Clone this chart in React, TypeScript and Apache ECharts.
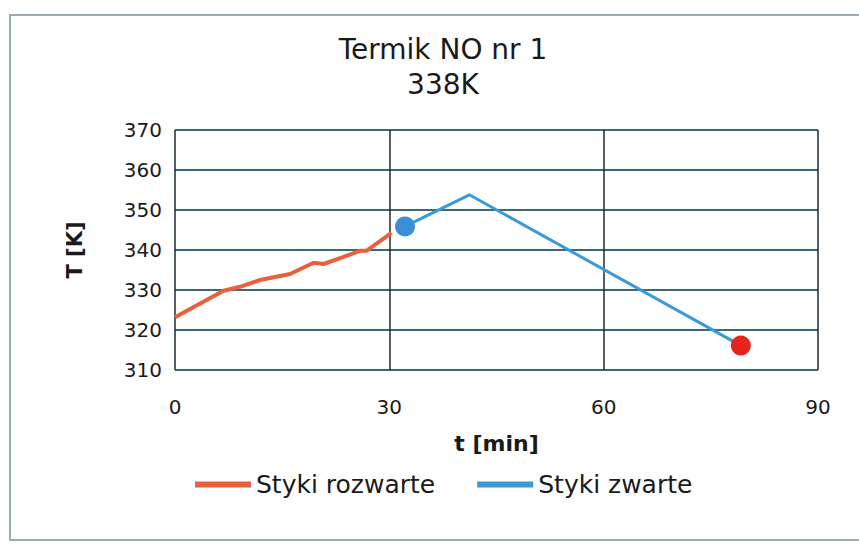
import React, { useEffect, useRef } from "react";
import * as echarts from "echarts";

const titleLines = ["Termik NO nr 1", "338K"];
const xName = "t [min]";
const yName = "T [K]";
const seriesNames = ["Styki rozwarte", "Styki zwarte"];
// [t (min), T (K)]
const openContacts: number[][] = [
  [0, 323.2], [6.8, 329.8], [9.1, 330.8], [11.9, 332.5], [16.1, 334.0],
  [19.4, 336.8], [20.8, 336.5], [23.6, 338.3], [25.9, 339.8], [26.8, 339.8],
  [30.3, 344.3],
];
const closedContacts: number[][] = [
  [32.2, 345.9], [41.2, 353.8], [79.2, 316.1],
];

const FONT = "DejaVu Sans, Verdana, sans-serif";

export default function App() {
  const ref = useRef<HTMLDivElement>(null);
  useEffect(() => {
    const chart = echarts.init(ref.current!, null, { renderer: "svg" });
    const closedData = closedContacts.map((p, i) => {
      if (i === 0)
        return { value: p, symbol: "circle", symbolSize: 20, itemStyle: { color: "#3b8fd6" } };
      if (i === closedContacts.length - 1)
        return { value: p, symbol: "circle", symbolSize: 20, itemStyle: { color: "#e8231c" } };
      return { value: p, symbol: "none" };
    });
    chart.setOption({
      animation: false,
      backgroundColor: "#ffffff",
      graphic: [
        {
          type: "rect",
          shape: { x: 10, y: 15, width: 860, height: 525 },
          style: { fill: "none", stroke: "#9aadb3", lineWidth: 2 },
          z: -10,
        },
      ],
      title: {
        text: titleLines.join("\n"),
        left: 438,
        textAlign: "center",
        top: 27,
        textStyle: {
          fontFamily: FONT,
          fontSize: 28,
          fontWeight: "normal",
          color: "#1a1a1a",
          lineHeight: 35,
        },
      },
      legend: {
        top: 467,
        left: 190,
        itemWidth: 56,
        itemHeight: 6,
        itemGap: 42,
        textStyle: { fontFamily: FONT, fontSize: 25, color: "#1a1a1a" },
        data: [
          { name: seriesNames[0], icon: "rect", itemStyle: { color: "#e9603f" } },
          { name: seriesNames[1], icon: "rect", itemStyle: { color: "#3a9ad9" } },
        ],
      },
      grid: { left: 175, right: 41, top: 130, bottom: 177 },
      xAxis: {
        type: "value",
        min: 0,
        max: 90,
        interval: 30,
        name: xName,
        nameLocation: "middle",
        nameGap: 62,
        nameTextStyle: { fontFamily: FONT, fontSize: 22, fontWeight: "bold", color: "#1a1a1a" },
        axisLine: { show: false },
        axisTick: { show: false },
        axisLabel: { fontFamily: FONT, fontSize: 20, color: "#1a1a1a", margin: 27 },
        splitLine: { show: true, lineStyle: { color: "#1d2b33", width: 1.5 } },
      },
      yAxis: {
        type: "value",
        min: 310,
        max: 370,
        interval: 10,
        name: yName,
        nameLocation: "middle",
        nameGap: 90,
        nameTextStyle: { fontFamily: FONT, fontSize: 21, fontWeight: "bold", color: "#1a1a1a" },
        axisLine: { show: false },
        axisTick: { show: false },
        axisLabel: { fontFamily: FONT, fontSize: 20, color: "#1a1a1a", margin: 13 },
        splitLine: { show: true, lineStyle: { color: "#3e6878", width: 2 } },
      },
      series: [
        {
          name: seriesNames[0],
          type: "line",
          data: openContacts,
          symbol: "none",
          lineStyle: { color: "#e9603f", width: 4 },
          itemStyle: { color: "#e9603f" },
          z: 3,
        },
        {
          name: seriesNames[1],
          type: "line",
          data: closedData,
          showSymbol: true,
          symbol: "none",
          lineStyle: { color: "#3a9ad9", width: 3 },
          itemStyle: { color: "#3a9ad9" },
          z: 4,
        },
      ],
    });
    return () => chart.dispose();
  }, []);
  return <div ref={ref} style={{ width: 859, height: 547, position: "fixed", left: 0, top: 0 }} />;
}
